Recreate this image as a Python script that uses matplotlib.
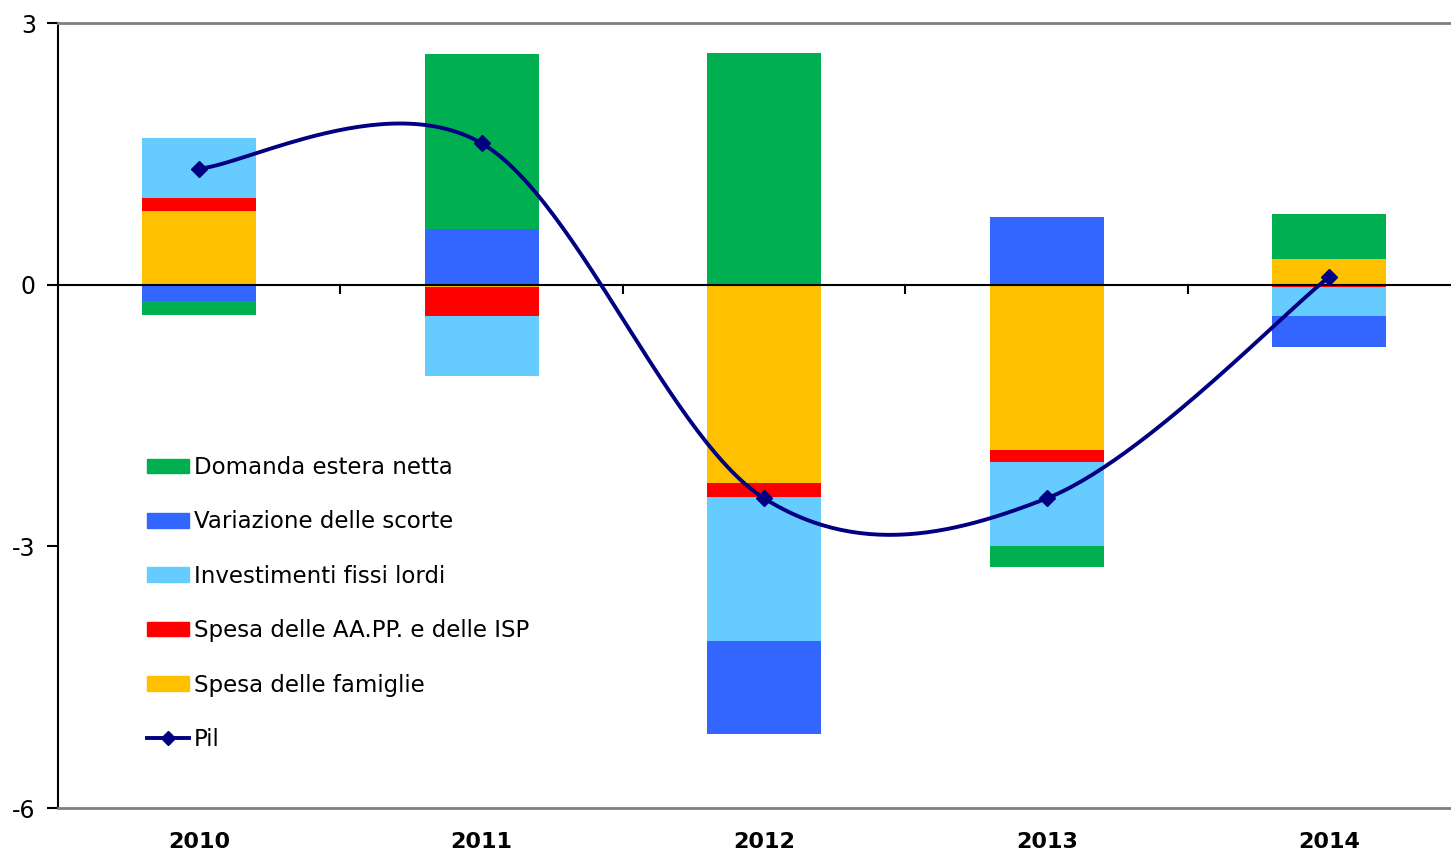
import matplotlib
matplotlib.use("Agg")
import matplotlib.pyplot as plt
import numpy as np
from matplotlib.lines import Line2D
from matplotlib.patches import Patch

# data
anni = ["2010", "2011", "2012", "2013", "2014"]
famiglie = [0.84, -0.03, -2.27, -1.89, 0.29]
aapp = [0.15, -0.33, -0.17, -0.14, -0.03]
investimenti = [0.69, -0.69, -1.64, -0.97, -0.33]
scorte = [-0.19, 0.64, -1.07, 0.78, -0.36]
domanda_estera = [-0.16, 2.00, 2.66, -0.24, 0.52]
pil = [1.33, 1.62, -2.45, -2.45, 0.09]

serie = [
    ("Spesa delle famiglie", famiglie, "#FFC000"),
    ("Spesa delle AA.PP. e delle ISP", aapp, "#FF0000"),
    ("Investimenti fissi lordi", investimenti, "#66CCFF"),
    ("Variazione delle scorte", scorte, "#3366FF"),
    ("Domanda estera netta", domanda_estera, "#00B050"),
]

plt.rcParams['font.family'] = ['DejaVu Sans']

W, H = 1451, 856
fig = plt.figure(figsize=(W / 100, H / 100), dpi=100)
ax = fig.add_axes([58 / W, 48 / H, 1412.5 / W, 785 / H])

x = np.arange(len(anni))
pos = np.zeros(len(anni))
neg = np.zeros(len(anni))
for nome, vals, col in serie:
    v = np.array(vals)
    base = np.where(v >= 0, pos, neg)
    ax.bar(x, v, bottom=base, width=0.405, color=col, linewidth=0, zorder=2)
    pos = np.where(v >= 0, pos + v, pos)
    neg = np.where(v < 0, neg + v, neg)

# smoothed line like excel (bezier through points)
py = np.array(pil)
px = x.astype(float)
n = len(px)
cx, cy = [], []
for i in range(n - 1):
    p0 = max(i - 1, 0)
    p3 = min(i + 2, n - 1)
    c1x = px[i] + (px[i + 1] - px[p0]) / 6
    c1y = py[i] + (py[i + 1] - py[p0]) / 6
    c2x = px[i + 1] - (px[p3] - px[i]) / 6
    c2y = py[i + 1] - (py[p3] - py[i]) / 6
    t = np.linspace(0, 1, 60)
    bx = (1 - t) ** 3 * px[i] + 3 * (1 - t) ** 2 * t * c1x + 3 * (1 - t) * t ** 2 * c2x + t ** 3 * px[i + 1]
    by = (1 - t) ** 3 * py[i] + 3 * (1 - t) ** 2 * t * c1y + 3 * (1 - t) * t ** 2 * c2y + t ** 3 * py[i + 1]
    cx.extend(bx)
    cy.extend(by)
ax.plot(cx, cy, color="#000080", lw=2.8, zorder=4)
ax.plot(px, py, linestyle="none", marker="D", markersize=8, color="#000080", zorder=5)

# zero line with ticks between categories
ax.axhline(0, color="black", lw=1.5, zorder=3)
for b in [0.5, 1.5, 2.5, 3.5]:
    ax.plot([b, b], [0, -0.09], color="black", lw=1.5, zorder=3)

ax.set_xlim(-0.5, 4.5)
ax.set_ylim(-6, 3)
ax.set_yticks([-6, -3, 0, 3])
ax.set_yticklabels(["-6", "-3", "0", "3"], fontsize=17)
ax.set_xticks(x)
ax.set_xticklabels(anni, fontsize=16, fontweight="bold")
ax.tick_params(axis="x", length=0, pad=17)
ax.tick_params(axis="y", length=8, width=1.5, direction="out", pad=8)

for s in ["top", "bottom"]:
    ax.spines[s].set_color("#808080")
    ax.spines[s].set_linewidth(2)
ax.spines["left"].set_color("black")
ax.spines["left"].set_linewidth(1.5)
ax.spines["right"].set_visible(False)

handles = [Patch(color=col, label=nome) for nome, vals, col in serie[::-1]]
handles.append(Line2D([0], [0], color="#000080", lw=2.8, marker="D", markersize=7, label="Pil"))
fig.legend(handles=handles, loc="upper left", bbox_to_anchor=(147 / W, 1 - 456 / H),
           frameon=False, fontsize=16.5, handlelength=1.85, handleheight=0.6,
           handletextpad=0.18, labelspacing=1.37, borderpad=0, borderaxespad=0)

fig.savefig("out.png", dpi=100)
